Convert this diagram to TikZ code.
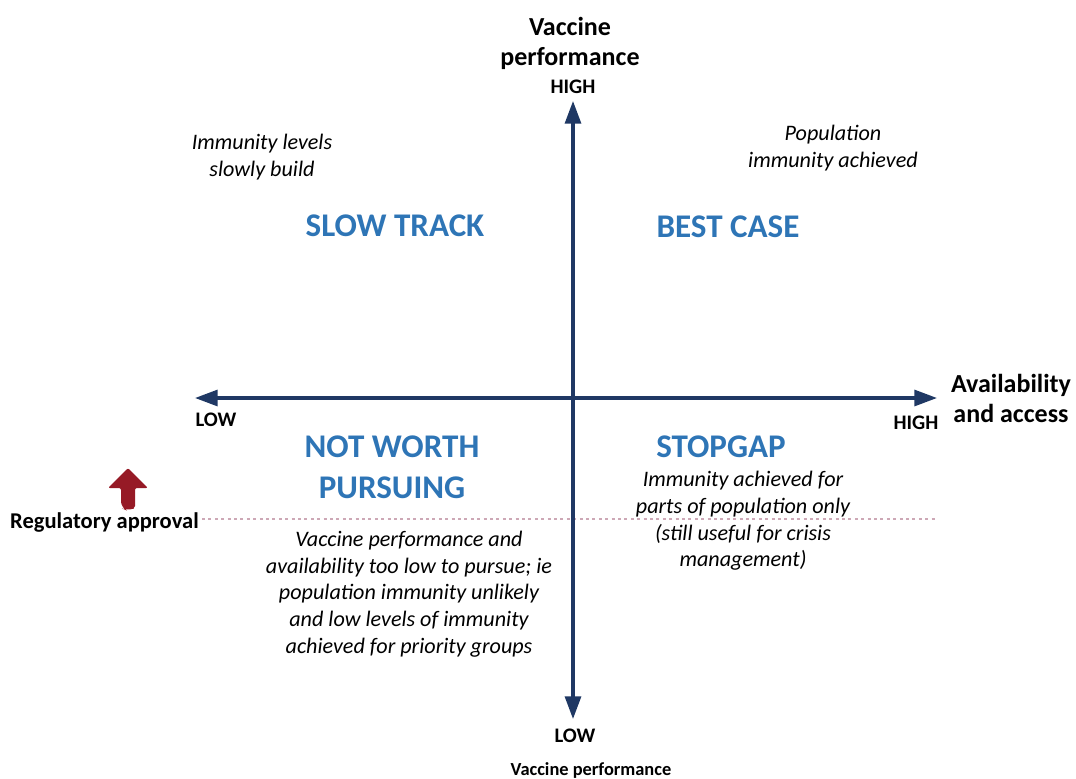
\documentclass[tikz,border=0pt]{standalone}
\usepackage{fontspec}
\setmainfont{Carlito}
\usetikzlibrary{arrows.meta}
\definecolor{axisblue}{RGB}{31,56,100}
\definecolor{quadblue}{RGB}{46,117,182}
\definecolor{approvalred}{RGB}{150,26,38}
\definecolor{dotpink}{RGB}{205,168,182}
\begin{document}
\begin{tikzpicture}[x=0.75pt,y=-0.75pt,
  axisline/.style={draw=axisblue,line width=2.3pt,
    {Triangle[length=17pt,width=12pt]}-{Triangle[length=17pt,width=12pt]}},
  axistitle/.style={font=\fontsize{19.5}{22.5}\selectfont\bfseries,align=center,inner sep=0pt},
  endlabel/.style={font=\fontsize{15.5}{18}\selectfont\bfseries,inner sep=0pt},
  quadtitle/.style={font=\fontsize{24.8}{31}\selectfont\bfseries,text=quadblue,align=center,inner sep=0pt},
  note/.style={font=\fontsize{16.6}{20}\selectfont\itshape,align=center,inner sep=0pt},
  approvalline/.style={draw=dotpink,line width=1.2pt,dash pattern=on 2.2pt off 2.6pt}]
\useasboundingbox (0,0) rectangle (1076,779);

% axis end points
\coordinate (vtop) at (573,101);
\coordinate (vbot) at (573,719);
\coordinate (hleft) at (195,398);
\coordinate (hright) at (937,398);

% regulatory approval threshold
\node[font=\fontsize{16.9}{18}\selectfont\bfseries,inner sep=0pt,anchor=east] (approval) at (199,522) {Regulatory approval};
\coordinate (approvalend) at (935,519);
\draw[approvalline] (approval.east |- approvalend) ++(3,0) -- (approvalend);

% upward block arrow above the approval label
\fill[approvalred,rounded corners=1.5pt]
  (128,468) -- (148,488) -- (135,488) -- (135,508)
  [rounded corners=5pt] -- (128,511) -- (121,508)
  [rounded corners=1.5pt] -- (121,488) -- (108,488) -- cycle;

% axes
\draw[axisline] (vbot) -- (vtop);
\draw[axisline] (hleft) -- (hright);

% axis titles and end labels
\node[axistitle] (vtitle) at (570,43) {Vaccine\\performance};
\node[endlabel] (vhigh) at (573,87) {HIGH};
\node[endlabel] (vlow) at (575,736) {LOW};
\node[font=\fontsize{13.8}{15}\selectfont\bfseries,inner sep=0pt] (vtitlelow) at (591,770) {Vaccine performance};
\node[axistitle] (htitle) at (1011,398) {Availability\\and access};
\node[endlabel] (hlow) at (216,420) {LOW};
\node[endlabel] (hhigh) at (916,423) {HIGH};

% quadrant titles
\node[quadtitle] (slow) at (395,226) {SLOW TRACK};
\node[quadtitle] (best) at (728,227) {BEST CASE};
\node[quadtitle] (notworth) at (392,467) {NOT WORTH\\PURSUING};
\node[quadtitle] (stopgap) at (721,447) {STOPGAP};

% quadrant notes
\node[note] (slownote) at (262,157) {Immunity levels\\slowly build};
\node[note] (bestnote) at (833,148) {Population\\immunity achieved};
\node[note] (stopgapnote) at (743,521) {Immunity achieved for\\parts of population only\\(still useful for crisis\\management)};
\node[note] (notworthnote) at (409,594) {Vaccine performance and\\availability too low to pursue; ie\\population immunity unlikely\\and low levels of immunity\\achieved for priority groups};
\end{tikzpicture}
\end{document}
